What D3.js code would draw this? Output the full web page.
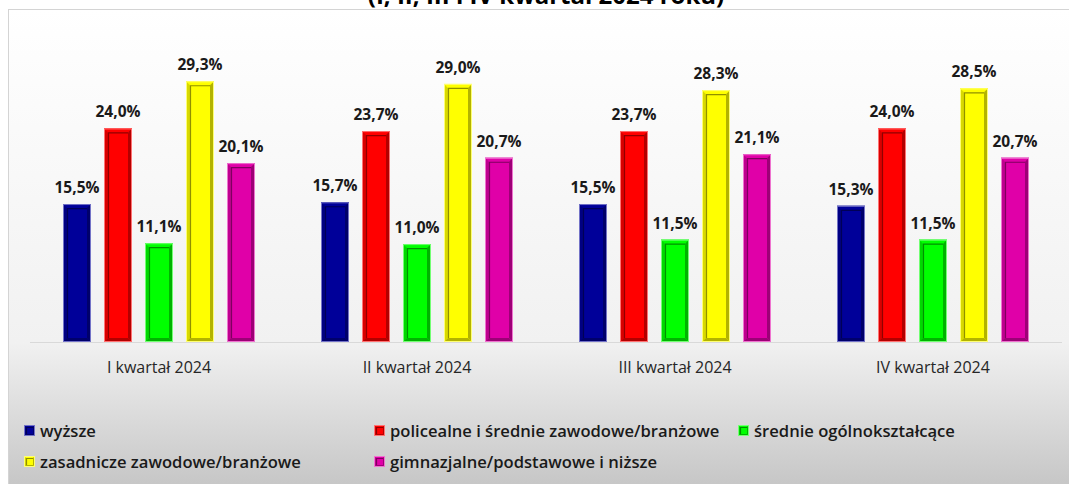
<!DOCTYPE html>
<html><head><meta charset="utf-8">
<script src="https://cdn.jsdelivr.net/npm/d3@7"></script>
<style>body{margin:0;background:#fff}svg{display:block}</style>
</head><body>
<svg id="c" width="1069" height="484"></svg>
<script>
const categories = ["I kwartał 2024","II kwartał 2024","III kwartał 2024","IV kwartał 2024"];
const seriesNames = ["wyższe","policealne i średnie zawodowe/branżowe","średnie ogólnokształcące","zasadnicze zawodowe/branżowe","gimnazjalne/podstawowe i niższe"];
const seriesColors = ["#000099","#ff0000","#00ff00","#ffff00","#e000a8"];
const wyzsze = [15.5,15.7,15.5,15.3];
const policealne = [24.0,23.7,23.7,24.0];
const srednieOgol = [11.1,11.0,11.5,11.5];
const zasadnicze = [29.3,29.0,28.3,28.5];
const gimnazjalne = [20.1,20.7,21.1,20.7];
const values = [wyzsze,policealne,srednieOgol,zasadnicze,gimnazjalne];
const title = "(I, II, III i IV kwartał 2024 roku)";

const svg = d3.select("#c");
const defs = svg.append("defs");
const bg = defs.append("linearGradient").attr("id","bg").attr("x1",0).attr("y1",0).attr("x2",0).attr("y2",1);
bg.append("stop").attr("offset","0").attr("stop-color","#ffffff");
bg.append("stop").attr("offset","0.68").attr("stop-color","#f1f1f1");
bg.append("stop").attr("offset","1").attr("stop-color","#c2c2c2");

svg.append("rect").attr("x",8.5).attr("y",9.5).attr("width",1080).attr("height",490)
  .attr("fill","url(#bg)").attr("stroke","#d4d4d4");

svg.append("text").attr("x",546).attr("y",4).attr("text-anchor","middle")
  .attr("font-family","Open Sans").attr("font-weight","bold").attr("font-size",24).attr("fill","#000").text(title);

const baseY = 342;
const y = d3.scaleLinear().domain([0,35]).range([baseY, baseY-311.5]);
const x0 = d3.scaleBand().domain(categories).range([30,1062]).padding(0);
const x1 = d3.scaleBand().domain(seriesNames).range([0,192]).paddingInner(13/41).paddingOuter(0);
const off = (x0.bandwidth()-192)/2;

svg.append("line").attr("x1",30).attr("x2",1062).attr("y1",baseY+0.5).attr("y2",baseY+0.5).attr("stroke","#d9d9d9");

function bevel(g, x, yTop, w, h, color, b) {
  const c = d3.color(color);
  const dark = c.darker(1.6).formatHex();
  const mid = c.darker(1.0).formatHex();
  const semi = c.darker(0.45).formatHex();
  const outline = d3.interpolateRgb(color, "#ffffff")(0.45);
  g.append("rect").attr("x",x).attr("y",yTop).attr("width",w).attr("height",h).attr("fill",color);
  g.append("polygon").attr("points",[[x,yTop],[x+w,yTop],[x+w-b,yTop+b],[x+b,yTop+b]].join(" ")).attr("fill",color);
  g.append("polygon").attr("points",[[x,yTop],[x+b,yTop+b],[x+b,yTop+h-b],[x,yTop+h]].join(" ")).attr("fill",semi);
  g.append("polygon").attr("points",[[x+w,yTop],[x+w,yTop+h],[x+w-b,yTop+h-b],[x+w-b,yTop+b]].join(" ")).attr("fill",mid);
  g.append("polygon").attr("points",[[x,yTop+h],[x+w,yTop+h],[x+w-b,yTop+h-b],[x+b,yTop+h-b]].join(" ")).attr("fill",mid);
  g.append("path").attr("d",`M${x+b+0.5},${yTop+h-b}V${yTop+b+0.5}H${x+w-b}`).attr("stroke",dark).attr("stroke-width",1.2).attr("fill","none");
  g.append("rect").attr("x",x+0.5).attr("y",yTop+0.5).attr("width",w-1).attr("height",h-1).attr("fill","none").attr("stroke",outline);
}

categories.forEach((cat,ci)=>{
  const g = svg.append("g");
  seriesNames.forEach((s,si)=>{
    const v = values[si][ci];
    const bx = x0(cat)+off+x1(s);
    const by = y(v);
    bevel(g, bx, by, x1.bandwidth(), baseY-by, seriesColors[si], 4);
    g.append("text").attr("x",bx+x1.bandwidth()/2).attr("y",by-11).attr("text-anchor","middle")
      .attr("font-family","Open Sans").attr("font-weight","bold").attr("font-size",15.5).attr("fill","#1a1a1a")
      .text(v.toFixed(1).replace(".",",")+"%");
  });
  svg.append("text").attr("x",x0(cat)+x0.bandwidth()/2).attr("y",373).attr("text-anchor","middle")
    .attr("font-family","Open Sans").attr("font-size",16).attr("fill","#262626").text(cat);
});

const legendPos = [[24,431],[374,431],[738,431],[24,462],[374,462]];
seriesNames.forEach((s,si)=>{
  const [lx,ly] = legendPos[si];
  const g = svg.append("g");
  bevel(g, lx, ly-6, 11, 11, seriesColors[si], 2);
  g.append("text").attr("x",lx+16).attr("y",ly+5.5).attr("font-family","Open Sans").attr("font-weight",600)
    .attr("font-size",16.6).attr("fill","#1a1a1a").text(s);
});
</script>
</body></html>
